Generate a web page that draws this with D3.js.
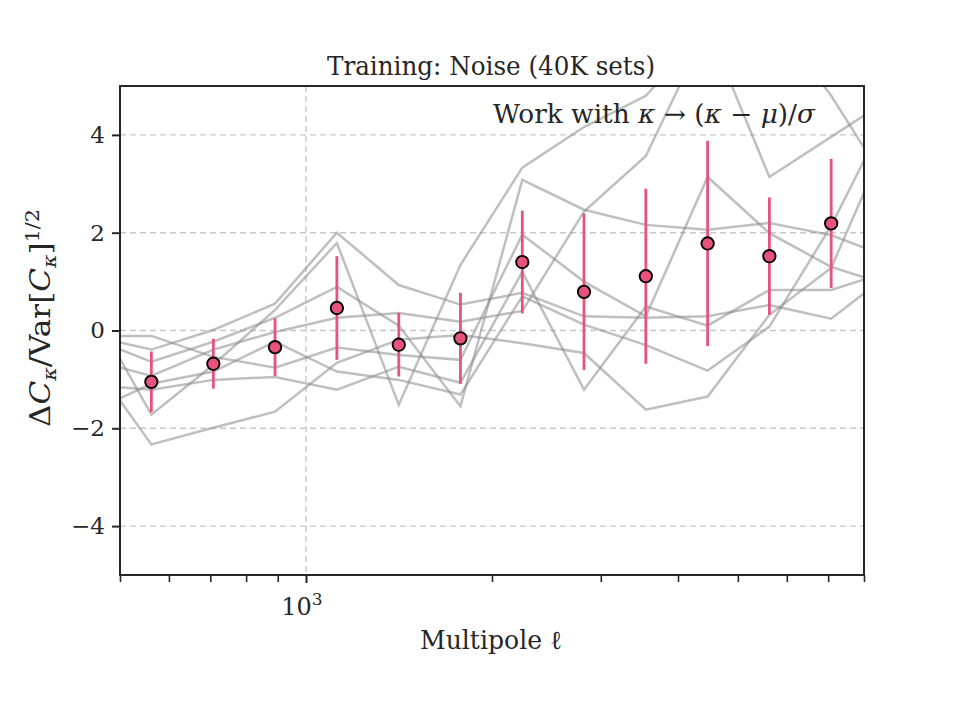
<!DOCTYPE html>
<html>
<head>
<meta charset="utf-8">
<script src="https://cdn.jsdelivr.net/npm/d3@7"></script>
<style>
  body { margin: 0; background: #fff; }
  text { font-family: "DejaVu Serif", "Liberation Serif", serif; fill: #262626; }
</style>
</head>
<body>
<svg width="960" height="720"></svg>
<script>
// axes box (pixels)
var boxLeft = 120, boxRight = 864, boxTop = 86, boxBottom = 575;

// multipole bin centres
var ell = [562, 708, 891, 1122, 1413, 1778, 2239, 2818, 3548, 4467, 5623, 7079];

// mean of the training set and its scatter
var meanVals = [-1.05, -0.68, -0.34, 0.46, -0.29, -0.16, 1.40, 0.79, 1.11, 1.78, 1.52, 2.19];
var errVals = [0.62, 0.51, 0.59, 1.06, 0.65, 0.93, 1.05, 1.60, 1.79, 2.10, 1.20, 1.32];

// individual realisations (with one bin off each side of the plot)
var ellFull = [447, 562, 708, 891, 1122, 1413, 1778, 2239, 2818, 3548, 4467, 5623, 7079, 8913];
var real1 = [-0.11, -0.39, 0.01, 0.55, 2.00, 0.93, 0.53, 0.77, 0.29, 0.26, 0.29, 0.52, 0.24, 1.22];
var real2 = [0.52, -1.72, -0.70, 0.42, 1.79, -1.52, 1.34, 3.33, 4.16, 4.8, 6.2, 3.14, 3.96, 4.78];
var real3 = [-0.14, -0.64, -0.23, 0.26, 0.89, 0.10, -1.55, 3.08, 2.47, 2.16, 2.06, 2.20, 1.95, 1.47];
var real4 = [-0.57, -2.33, -1.99, -1.66, -0.66, -0.19, -0.09, -0.26, -0.46, -1.62, -1.35, 0.32, 1.28, 4.18];
var real5 = [-0.59, -0.93, -0.39, -0.03, 0.26, 0.36, 0.18, 0.40, 2.43, 3.57, 6.2, 6.5, 4.8, 2.8];
var real6 = [-0.11, -0.11, -0.54, -0.76, -0.35, -0.50, -0.60, 1.96, 1.00, 0.29, 3.14, 1.99, 1.30, 0.9];
var real7 = [-1.11, -1.21, -1.01, -0.95, -1.21, -0.74, -1.07, 1.20, -1.21, 0.49, 0.10, 0.83, 0.83, 1.23];
var real8 = [-1.67, -1.09, -0.84, -0.23, -0.84, -1.01, -1.31, 0.70, 0.12, -0.30, -0.82, 0.08, 2.14, 4.66];
var realisations = [real1, real2, real3, real4, real5, real6, real7, real8];

// ticks
var yTicks = [-4, -2, 0, 2, 4];
var xMajor = [1000];
var xMinor = [500, 600, 700, 800, 900, 2000, 3000, 4000, 5000, 6000, 7000, 8000];

var x = d3.scaleLog().domain([500, 8000]).range([boxLeft, boxRight]);
var y = d3.scaleLinear().domain([-5, 5]).range([boxBottom, boxTop]);

var svg = d3.select('svg');

svg.append('clipPath').attr('id', 'clip')
  .append('rect')
  .attr('x', boxLeft).attr('y', boxTop)
  .attr('width', boxRight - boxLeft).attr('height', boxBottom - boxTop);

// grid
var grid = svg.append('g')
  .attr('stroke', '#c8c8c8')
  .attr('stroke-width', 1.4)
  .attr('stroke-dasharray', '6,4');

grid.selectAll('line.h')
  .data(yTicks)
  .enter().append('line')
  .attr('class', 'h')
  .attr('x1', boxLeft).attr('x2', boxRight)
  .attr('y1', function(d) { return y(d); })
  .attr('y2', function(d) { return y(d); });

grid.selectAll('line.v')
  .data(xMajor)
  .enter().append('line')
  .attr('class', 'v')
  .attr('x1', function(d) { return x(d); })
  .attr('x2', function(d) { return x(d); })
  .attr('y1', boxTop).attr('y2', boxBottom);

// realisations
var line = d3.line()
  .x(function(d, i) { return x(ellFull[i]); })
  .y(function(d) { return y(d); });

svg.append('g')
  .attr('clip-path', 'url(#clip)')
  .selectAll('path')
  .data(realisations)
  .enter().append('path')
  .attr('d', line)
  .attr('fill', 'none')
  .attr('stroke', '#8a8a8a')
  .attr('stroke-opacity', 0.55)
  .attr('stroke-width', 2.5);

// error bars
var pink = '#e8537d';
var pts = ell.map(function(l, i) { return {l: l, m: meanVals[i], e: errVals[i]}; });

svg.append('g')
  .selectAll('line')
  .data(pts)
  .enter().append('line')
  .attr('x1', function(d) { return x(d.l); })
  .attr('x2', function(d) { return x(d.l); })
  .attr('y1', function(d) { return y(d.m - d.e); })
  .attr('y2', function(d) { return y(d.m + d.e); })
  .attr('stroke', pink)
  .attr('stroke-width', 2.8);

svg.append('g')
  .selectAll('circle')
  .data(pts)
  .enter().append('circle')
  .attr('cx', function(d) { return x(d.l); })
  .attr('cy', function(d) { return y(d.m); })
  .attr('r', 6.2)
  .attr('fill', pink)
  .attr('stroke', '#000')
  .attr('stroke-width', 1.9);

// frame
svg.append('rect')
  .attr('x', boxLeft).attr('y', boxTop)
  .attr('width', boxRight - boxLeft).attr('height', boxBottom - boxTop)
  .attr('fill', 'none')
  .attr('stroke', '#262626')
  .attr('stroke-width', 2);

// axes
var yAxis = d3.axisLeft(y).tickValues(yTicks).tickSize(8).tickPadding(7)
  .tickFormat(function(d) { return d < 0 ? '\u2212' + Math.abs(d) : d; });
var gy = svg.append('g').attr('transform', 'translate(' + boxLeft + ',0)').call(yAxis);
gy.select('.domain').remove();
gy.selectAll('line').attr('stroke', '#262626').attr('stroke-width', 2);
gy.selectAll('text').attr('font-size', 23).attr('fill', '#262626');

var xAxisMinor = d3.axisBottom(x).tickValues(xMinor).tickSize(7).tickFormat('');
var gxm = svg.append('g').attr('transform', 'translate(0,' + boxBottom + ')').call(xAxisMinor);
gxm.select('.domain').remove();
gxm.selectAll('line').attr('stroke', '#262626').attr('stroke-width', 1.6);

var xAxis = d3.axisBottom(x).tickValues(xMajor).tickSize(8).tickFormat('');
var gx = svg.append('g').attr('transform', 'translate(0,' + boxBottom + ')').call(xAxis);
gx.select('.domain').remove();
gx.selectAll('line').attr('stroke', '#262626').attr('stroke-width', 2);

// 10^3 label
var xl = svg.append('text')
  .attr('x', x(1000) - 4).attr('y', 615)
  .attr('text-anchor', 'middle')
  .attr('font-size', 24);
xl.append('tspan').text('10');
xl.append('tspan').attr('dy', -10).attr('font-size', 17).text('3');

// pieces of mixed text
function richText(sel, parts) {
  parts.forEach(function(p) {
    var t = sel.append('tspan').text(p.t);
    if (p.i) t.attr('font-style', 'italic');
    if (p.dy) t.attr('dy', p.dy);
    if (p.fs) t.attr('font-size', p.fs);
  });
}

// title
svg.append('text')
  .attr('x', 491).attr('y', 75)
  .attr('text-anchor', 'middle')
  .attr('font-size', 26)
  .attr('textLength', 328).attr('lengthAdjust', 'spacingAndGlyphs')
  .text('Training: Noise (40K sets)');

// annotation
var ann = svg.append('text')
  .attr('x', 815).attr('y', 123)
  .attr('text-anchor', 'end')
  .attr('font-size', 26)
  .attr('textLength', 322).attr('lengthAdjust', 'spacingAndGlyphs');
richText(ann, [
  {t: 'Work with '}, {t: '\u03ba', i: true}, {t: ' \u2192 ('}, {t: '\u03ba', i: true},
  {t: ' \u2212 '}, {t: '\u03bc', i: true}, {t: ')/'}, {t: '\u03c3', i: true}
]);

// x label
svg.append('text')
  .attr('x', 491).attr('y', 649)
  .attr('text-anchor', 'middle')
  .attr('font-size', 26)
  .attr('textLength', 142).attr('lengthAdjust', 'spacingAndGlyphs')
  .text('Multipole \u2113');

// y label
var yl = svg.append('text')
  .attr('transform', 'translate(50,318) rotate(-90)')
  .attr('text-anchor', 'middle')
  .attr('font-size', 27)
  .attr('textLength', 218).attr('lengthAdjust', 'spacingAndGlyphs');
richText(yl, [
  {t: '\u0394'}, {t: 'C', i: true}, {t: '\u03ba', i: true, dy: 6, fs: 18},
  {t: '/Var[', dy: -6}, {t: 'C', i: true}, {t: '\u03ba', i: true, dy: 6, fs: 18},
  {t: ']', dy: -6}, {t: '1/2', dy: -11, fs: 18}
]);
</script>
</body>
</html>
